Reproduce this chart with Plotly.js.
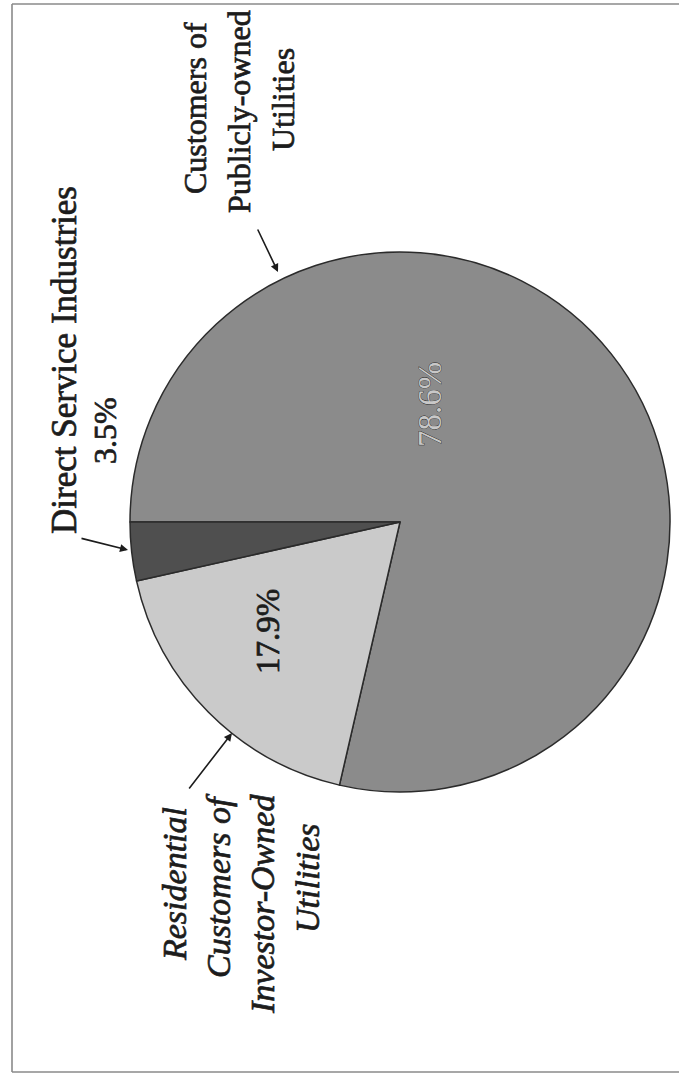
<!DOCTYPE html>
<html>
<head>
<meta charset="utf-8">
<script src="https://cdn.plot.ly/plotly-3.0.1.min.js"></script>
<style>
  html, body { margin: 0; padding: 0; background: #ffffff; }
  #chart { width: 679px; height: 1078px; }
  /* slightly heavier print-like strokes on all labels, fill kept on top */
  #chart .annotation-text { stroke: #1c1c1c; stroke-width: 0.7px; paint-order: stroke; }
</style>
</head>
<body>
<div id="chart"></div>
<script>
// Shares of the total, by customer group (drawn clockwise from 9 o'clock)
const groups = [
  "Customers of Publicly-owned Utilities",
  "Residential Customers of Investor-Owned Utilities",
  "Direct Service Industries"
];
const shares = [78.6, 17.9, 3.5];
const shareLabels = ["78.6%", "17.9%", "3.5%"];
const sliceColors = ["#8b8b8b", "#cacaca", "#4f4f4f"];

// Page size; margins are zero so paper units map straight to pixels
const W = 679, H = 1078;
const px = v => v / W;
const py = v => 1 - v / H;

const SERIF = "Liberation Serif, Times New Roman, serif";
const INK = "#1c1c1c";

const pie = {
  type: "pie",
  labels: groups,
  values: shares,
  sort: false,
  direction: "clockwise",
  rotation: -90,
  textinfo: "none",
  hoverinfo: "label+percent",
  marker: { colors: sliceColors, line: { color: "#2b2b2b", width: 1.5 } },
  domain: { x: [px(130), px(670)], y: [py(792), py(252)] },
  showlegend: false
};

// Vertical (rotated) text helper
function vtext(text, x, y, opts) {
  return Object.assign({
    xref: "paper", yref: "paper",
    x: px(x), y: py(y),
    text: text, showarrow: false,
    textangle: -90,
    xanchor: "center", yanchor: "middle",
    font: { family: SERIF, size: 34, color: INK }
  }, opts || {});
}

// Arrow helper: head at (x, y), tail at (tx, ty), all in pixels
function arrow(x, y, tx, ty) {
  return {
    xref: "paper", yref: "paper",
    x: px(x), y: py(y),
    ax: tx - x, ay: ty - y,
    text: "", showarrow: true,
    arrowhead: 2, arrowsize: 1, arrowwidth: 1.6,
    arrowcolor: INK, standoff: 0
  };
}

const italic = t => "<i>" + t + "</i>";

const annotations = [
  vtext("Direct Service Industries", 64, 360, { font: { family: SERIF, size: 35, color: INK } }),
  vtext(shareLabels[2], 105, 431, { font: { family: SERIF, size: 32, color: INK } }),

  vtext("Customers of", 195, 108, { font: { family: SERIF, size: 32, color: INK } }),
  vtext("Publicly-owned", 239, 112, { font: { family: SERIF, size: 32, color: INK } }),
  vtext("Utilities", 283, 100, { font: { family: SERIF, size: 32, color: INK } }),

  vtext(italic("Residential"), 174, 884),
  vtext(italic("Customers of"), 218, 886),
  vtext(italic("Investor-Owned"), 262, 904),
  vtext(italic("Utilities"), 307, 878),

  vtext(shareLabels[0], 430, 405, { font: { family: SERIF, size: 33, color: "#c8c8c8" } }),
  vtext(shareLabels[1], 268, 632, { font: { family: SERIF, size: 33, color: INK } }),

  arrow(128, 550, 80, 538),
  arrow(278, 272, 257, 228),
  arrow(232, 733, 188, 790)
];

// Thin frame along the left, top and bottom edges
const frameLine = { color: "#8a8a8a", width: 1.6 };
const shapes = [
  { type: "line", xref: "paper", yref: "paper", x0: px(12), x1: px(12), y0: py(4), y1: py(1072), line: frameLine },
  { type: "line", xref: "paper", yref: "paper", x0: px(12), x1: px(679), y0: py(4), y1: py(4), line: frameLine },
  { type: "line", xref: "paper", yref: "paper", x0: px(12), x1: px(679), y0: py(1072), y1: py(1072), line: frameLine }
];

const layout = {
  width: W, height: H,
  margin: { l: 0, r: 0, t: 0, b: 0 },
  paper_bgcolor: "#ffffff",
  plot_bgcolor: "#ffffff",
  font: { family: SERIF, color: INK },
  annotations: annotations,
  shapes: shapes
};

Plotly.newPlot("chart", [pie], layout, { displayModeBar: false, staticPlot: true });
</script>
</body>
</html>
